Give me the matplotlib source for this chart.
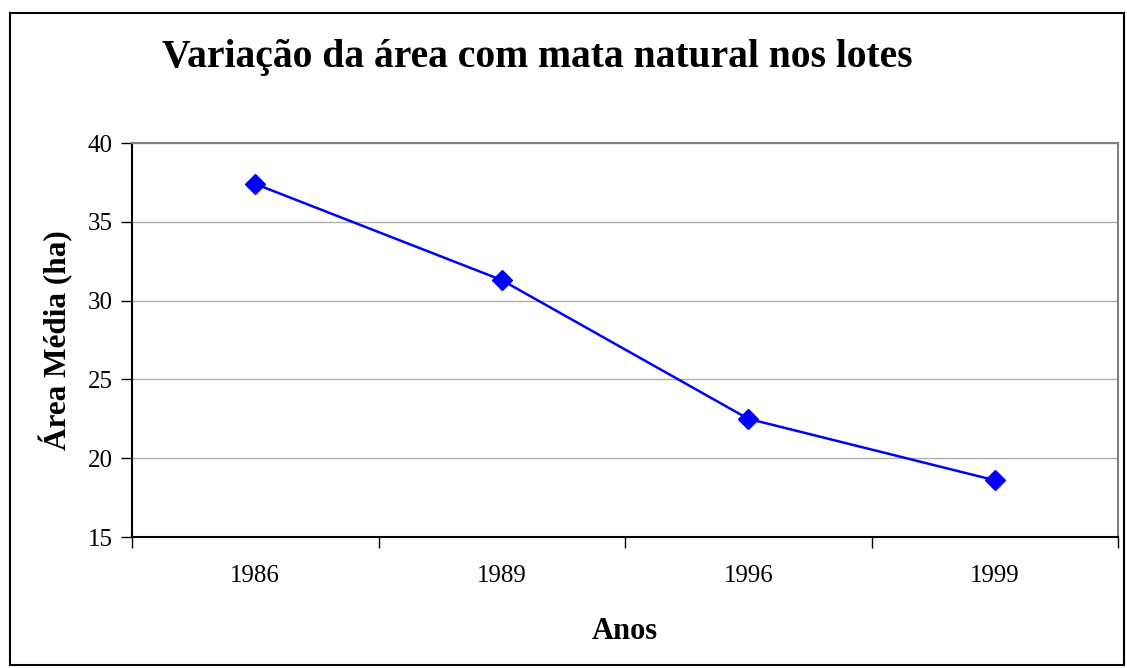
import matplotlib.pyplot as plt
from matplotlib.patches import Rectangle

anos = ['1986', '1989', '1996', '1999']
area_media = [37.4, 31.3, 22.5, 18.6]
y_ticks = [15, 20, 25, 30, 35, 40]

plt.rcParams['font.family'] = ['Liberation Serif', 'DejaVu Serif']

fig = plt.figure(figsize=(11.27, 6.68), dpi=100)
ax = fig.add_axes([132 / 1127, 1 - 537 / 668, (1118 - 132) / 1127, (537 - 143) / 668])

x = list(range(len(anos)))
ax.plot(x, area_media, color='#0000FF', linewidth=1.8, marker='D', markersize=10, zorder=3)

ax.set_xlim(-0.5, len(anos) - 0.5)
ax.set_ylim(15, 40)
ax.set_yticks(y_ticks)
ax.set_yticklabels([str(t) for t in y_ticks], fontsize=18)
ax.yaxis.grid(True, color='#B0B0B0', linewidth=1)
ax.set_axisbelow(True)

# category ticks sit between the categories, labels in the middle
ax.set_xticks([i - 0.5 for i in range(len(anos) + 1)])
ax.set_xticklabels([])
ax.set_xticks(x, minor=True)
ax.set_xticklabels(anos, minor=True, fontsize=18)
ax.tick_params(axis='x', which='minor', length=0, pad=20)
ax.tick_params(axis='x', which='major', length=8, width=1, direction='out')
ax.tick_params(axis='y', length=8, width=1, direction='out', pad=6)

for side in ['top', 'right']:
    ax.spines[side].set_color('#808080')
    ax.spines[side].set_linewidth(1.5)
for side in ['left', 'bottom']:
    ax.spines[side].set_color('black')
    ax.spines[side].set_linewidth(1.5)

ax.set_xlabel('Anos', fontsize=22, fontweight='bold', labelpad=22)
ax.set_ylabel('Área Média (ha)', fontsize=22.5, fontweight='bold', labelpad=10)
fig.text(537 / 1127, 1 - 58 / 668, 'Variação da área com mata natural nos lotes',
         fontsize=28.5, fontweight='bold', ha='center', va='center')

# outer chart border
fig.patches.append(Rectangle((10 / 1127, 0.005), 1 - 10 / 1127 - 0.003, 1 - 13 / 668 - 0.005,
                             transform=fig.transFigure, fill=False,
                             edgecolor='black', linewidth=1.5))

fig.savefig('out.png', dpi=100)
